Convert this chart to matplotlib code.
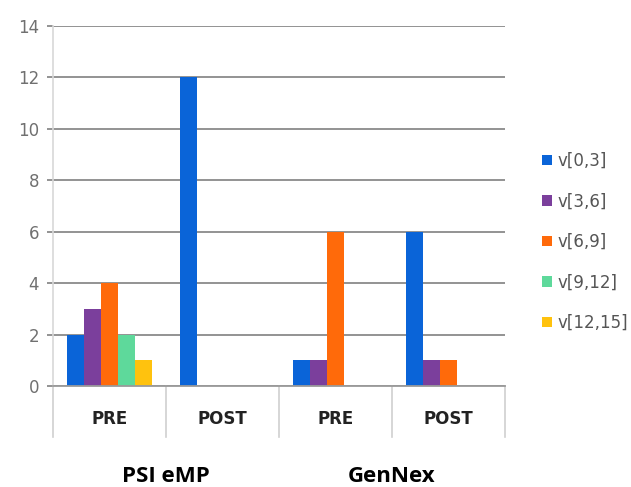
import matplotlib
matplotlib.use("Agg")
import matplotlib.pyplot as plt
import numpy as np
from matplotlib.lines import Line2D
import matplotlib.transforms as mtransforms

categories = ["PRE", "POST", "PRE", "POST"]
groups = ["PSI eMP", "GenNex"]
series_names = ["v[0,3]", "v[3,6]", "v[6,9]", "v[9,12]", "v[12,15]"]
values = {
    "v[0,3]":   [2, 12, 1, 6],
    "v[3,6]":   [3, 0, 1, 1],
    "v[6,9]":   [4, 0, 6, 1],
    "v[9,12]":  [2, 0, 0, 0],
    "v[12,15]": [1, 0, 0, 0],
}
colors = ["#0a64d8", "#7b3f9c", "#ff6a0a", "#5ed99b", "#ffc20e"]
yticks = [0, 2, 4, 6, 8, 10, 12, 14]

fig = plt.figure(figsize=(6.31, 4.87), dpi=100)
ax = fig.add_axes([53/631, 1-386/487, (505-53)/631, (386-26)/487])

x = np.arange(len(categories))
w = 0.15
n = len(series_names)
for i, (name, c) in enumerate(zip(series_names, colors)):
    offs = (i - (n-1)/2) * w
    ax.bar(x + offs, values[name], width=w, color=c, label=name, zorder=3)

ax.set_xlim(-0.5, len(categories) - 0.5)
ax.set_ylim(0, 14)
ax.set_yticks(yticks)
ax.set_yticklabels([str(t) for t in yticks], fontsize=12, color="#707070")
ax.yaxis.grid(True, color="#8a8a8a", linewidth=1.3, zorder=0)
ax.tick_params(axis="y", length=4, color="#8a8a8a", width=1.3, pad=6)
ax.set_xticks(x)
ax.set_xticklabels(categories, fontsize=12, fontweight="bold", color="#222222")
ax.tick_params(axis="x", length=0, pad=17)

for s in ["top", "right"]:
    ax.spines[s].set_visible(False)
ax.spines["left"].set_color("#d8d8d8")
ax.spines["left"].set_linewidth(1.2)
ax.spines["bottom"].set_color("#9a9a9a")
ax.spines["bottom"].set_linewidth(1.3)
ax.spines["bottom"].set_zorder(4)

# category separators below axis
trans = mtransforms.blended_transform_factory(ax.transData, ax.transAxes)
depth = 51 / 360
for b in np.arange(-0.5, len(categories), 1.0):
    ax.add_line(Line2D([b, b], [0, -depth], transform=trans, color="#d0d0d0",
                       linewidth=1.2, clip_on=False))

# group labels
for gi, g in enumerate(groups):
    ax.text(gi*2 + 0.5, -91/360, g, transform=trans, ha="center", va="center",
            fontsize=16, fontweight="bold", family="Open Sans", color="#000000")

handles, labels = ax.get_legend_handles_labels()
leg = fig.legend(handles, labels, loc="center left", bbox_to_anchor=(534/631, 1-242/487),
                 frameon=False, fontsize=12, handlelength=0.6, handleheight=0.6,
                 handletextpad=0.3, labelspacing=1.35, borderpad=0)
for t in leg.get_texts():
    t.set_color("#555555")

fig.savefig("out.png", dpi=100)
